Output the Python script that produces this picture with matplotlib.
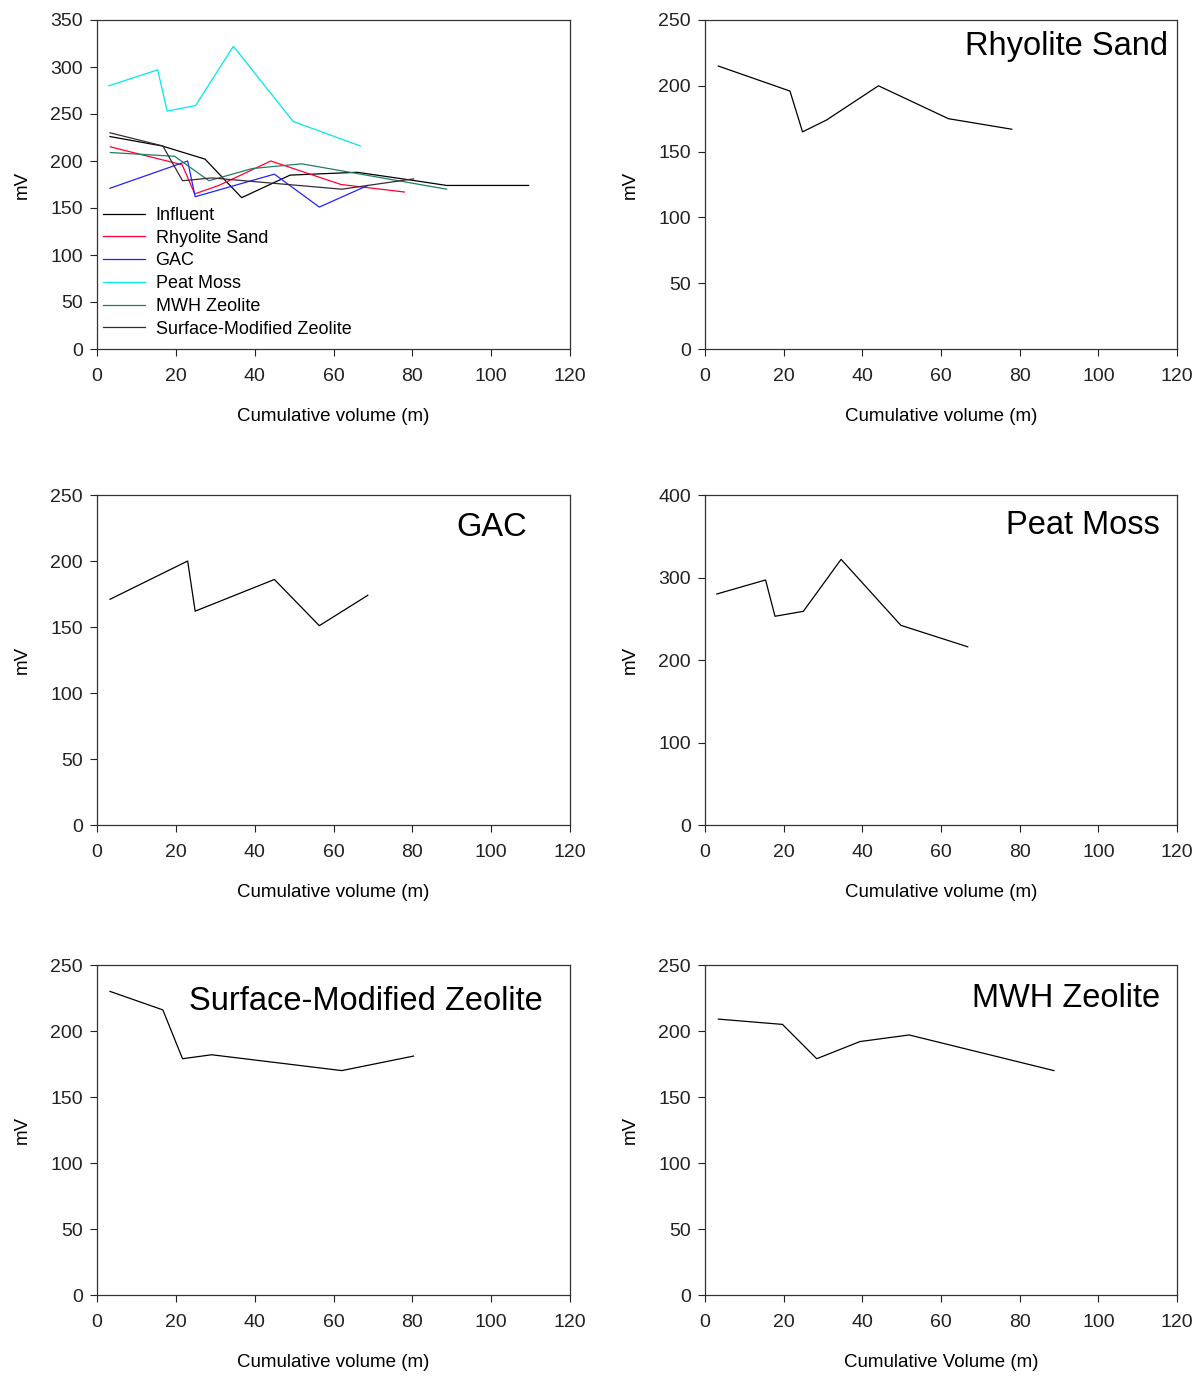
import matplotlib
matplotlib.use("Agg")
import matplotlib.pyplot as plt

plt.rcParams['font.family'] = ['Liberation Sans', 'DejaVu Sans']

# cumulative volume (m) and mV readings per column
influent_x = [3.3, 16.5, 27.4, 36.7, 49.0, 66.0, 80.8, 88.7, 109.5]
influent_y = [226, 216, 202, 161, 185, 188, 179, 174, 174]

rhyolite_x = [3.4, 21.6, 24.8, 30.9, 44.1, 61.9, 78.0]
rhyolite_y = [215, 196, 165, 174, 200, 175, 167]

gac_x = [3.3, 23.0, 24.9, 45.0, 56.4, 68.7]
gac_y = [171, 200, 162, 186, 151, 174]

peat_x = [3.0, 15.4, 17.8, 25.0, 34.6, 49.8, 66.8]
peat_y = [280, 297, 253, 259, 322, 242, 216]

mwh_x = [3.4, 19.7, 28.4, 39.4, 51.9, 88.7]
mwh_y = [209, 205, 179, 192, 197, 170]

smz_x = [3.3, 16.7, 21.7, 29.1, 62.1, 80.3]
smz_y = [230, 216, 179, 182, 170, 181]

names = ['Influent', 'Rhyolite Sand', 'GAC', 'Peat Moss', 'MWH Zeolite',
         'Surface-Modified Zeolite']
colors = ['#000000', '#ff0033', '#2222ff', '#00e8e8', '#1f7f60', '#3a2a33']

fig = plt.figure(figsize=(12.03, 13.77), dpi=100)

lx, rx = 97 / 1203, 705 / 1203
w = 473 / 1203
rows = [(1 - 349 / 1377, 329 / 1377), (1 - 825 / 1377, 330 / 1377),
        (1 - 1295 / 1377, 330 / 1377)]


def setup(ax, ymax, ystep, xlabel='Cumulative volume (m)'):
    ax.set_xlim(0, 120)
    ax.set_ylim(0, ymax)
    ax.set_xticks(range(0, 121, 20))
    ax.set_yticks(range(0, ymax + 1, ystep))
    ax.tick_params(direction='out', length=5, width=0.8, labelsize=14,
                   colors='#222222')
    ax.tick_params(axis='x', pad=9)
    ax.tick_params(axis='y', pad=5)
    for s in ax.spines.values():
        s.set_linewidth(0.9)
        s.set_color('#333333')
    ax.set_xlabel(xlabel, fontsize=13.5, labelpad=16)
    ax.set_ylabel('mV', fontsize=13.5, labelpad=14)


# all columns together
ax = fig.add_axes([lx, rows[0][0], w, rows[0][1]])
allx = [influent_x, rhyolite_x, gac_x, peat_x, mwh_x, smz_x]
ally = [influent_y, rhyolite_y, gac_y, peat_y, mwh_y, smz_y]
for xs, ys, n, c in zip(allx, ally, names, colors):
    ax.plot(xs, ys, color=c, lw=0.9, label=n)
setup(ax, 350, 50)
ax.legend(loc='upper left', bbox_to_anchor=(0.013, 0.432), frameon=False,
          fontsize=13, handlelength=2.3, handletextpad=0.6,
          labelspacing=0.32, borderpad=0, borderaxespad=0)

panels = [
    (rx, rows[0], rhyolite_x, rhyolite_y, 'Rhyolite Sand', 250, 50, (0.981, 0.918, 'right')),
    (lx, rows[1], gac_x, gac_y, 'GAC', 250, 50, (0.835, 0.903, 'center')),
    (rx, rows[1], peat_x, peat_y, 'Peat Moss', 400, 100, (0.964, 0.909, 'right')),
    (lx, rows[2], smz_x, smz_y, 'Surface-Modified Zeolite', 250, 50, (0.569, 0.888, 'center')),
    (rx, rows[2], mwh_x, mwh_y, 'MWH Zeolite', 250, 50, (0.964, 0.897, 'right')),
]

for i, (x0, (y0, h), xs, ys, title, ymax, ystep, tpos) in enumerate(panels):
    ax = fig.add_axes([x0, y0, w if x0 == lx else 472 / 1203, h])
    ax.plot(xs, ys, color='black', lw=0.9)
    xl = 'Cumulative Volume (m)' if i == 4 else 'Cumulative volume (m)'
    setup(ax, ymax, ystep, xl)
    ax.text(tpos[0], tpos[1], title, transform=ax.transAxes, fontsize=23.5,
            ha=tpos[2], va='center')

fig.savefig('out.png', dpi=100)
